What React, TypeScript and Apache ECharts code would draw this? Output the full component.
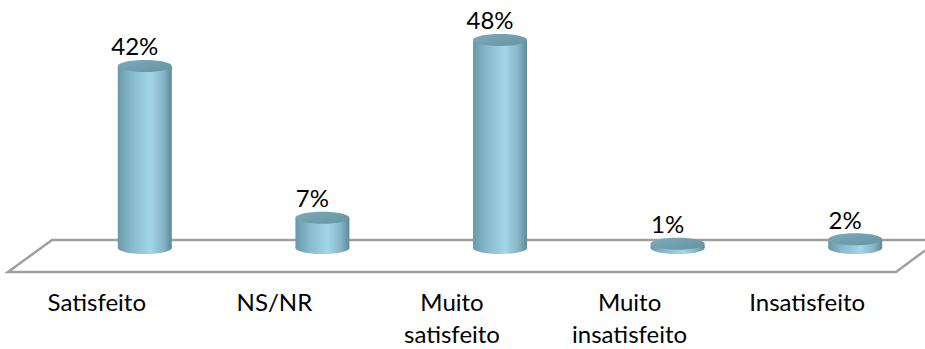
import React, { useEffect, useRef } from "react";
import * as echarts from "echarts";

const categories = ["Satisfeito", "NS/NR", "Muito\nsatisfeito", "Muito\ninsatisfeito", "Insatisfeito"];
const values = [42, 7, 48, 1, 2];

const FONT = "Lato, 'Open Sans', sans-serif";

export default function App() {
  const ref = useRef<HTMLDivElement>(null);
  useEffect(() => {
    if (!ref.current) return;
    const chart = echarts.init(ref.current, null, { renderer: "svg" });
    const rx = 27;
    const ry = 6;
    const option: any = {
      animation: false,
      backgroundColor: "#ffffff",
      grid: { left: 8, right: 29, top: 0, bottom: 94 },
      xAxis: {
        type: "category",
        data: categories,
        axisLine: { show: false },
        axisTick: { show: false },
        splitLine: { show: false },
        axisLabel: {
          interval: 0,
          margin: 37,
          fontFamily: FONT,
          fontSize: 24,
          lineHeight: 32,
          color: "#000",
        },
      },
      yAxis: { type: "value", min: 0, max: 57.2, show: false },
      graphic: [
        {
          type: "polyline",
          z: 0,
          shape: { points: [[925, 240], [52, 240], [8, 272], [896, 272], [925, 250.5]] },
          style: { stroke: "#a0a0a0", lineWidth: 2.5, fill: null },
        },
      ],
      series: [
        {
          type: "custom",
          z: 5,
          data: values.map((v, i) => [i, v]),
          renderItem: (params: any, api: any) => {
            const idx = api.value(0);
            const v = api.value(1);
            const base = api.coord([idx, 0]);
            const top = api.coord([idx, v]);
            const cx = base[0] + 48;
            const by = base[1];
            const ty = top[1];
            const grad = new echarts.graphic.LinearGradient(0, 0, 1, 0, [
              { offset: 0, color: "#6a98aa" },
              { offset: 0.25, color: "#86b9cb" },
              { offset: 0.6, color: "#a3d6e8" },
              { offset: 0.85, color: "#84b3c4" },
              { offset: 1, color: "#5b8a9b" },
            ]);
            const topGrad = new echarts.graphic.LinearGradient(0, 0, 1, 1, [
              { offset: 0, color: "#7eabbc" },
              { offset: 1, color: "#66939f" },
            ]);
            return {
              type: "group",
              children: [
                {
                  type: "ellipse",
                  shape: { cx, cy: by, rx, ry },
                  style: { fill: grad },
                },
                {
                  type: "rect",
                  shape: { x: cx - rx, y: ty, width: 2 * rx, height: Math.max(by - ty, 0) },
                  style: { fill: grad },
                },
                {
                  type: "ellipse",
                  shape: { cx, cy: ty, rx, ry },
                  style: { fill: topGrad },
                },
                {
                  type: "text",
                  x: cx - 10,
                  y: ty - 20,
                  style: {
                    text: v + "%",
                    fill: "#000",
                    fontFamily: FONT,
                    fontSize: 24,
                    align: "center",
                    verticalAlign: "middle",
                  },
                },
              ],
            };
          },
        },
      ],
    };
    chart.setOption(option);
    return () => chart.dispose();
  }, []);
  return (
    <div
      ref={ref}
      style={{ position: "absolute", left: 0, top: 0, width: 925, height: 349 }}
    />
  );
}
